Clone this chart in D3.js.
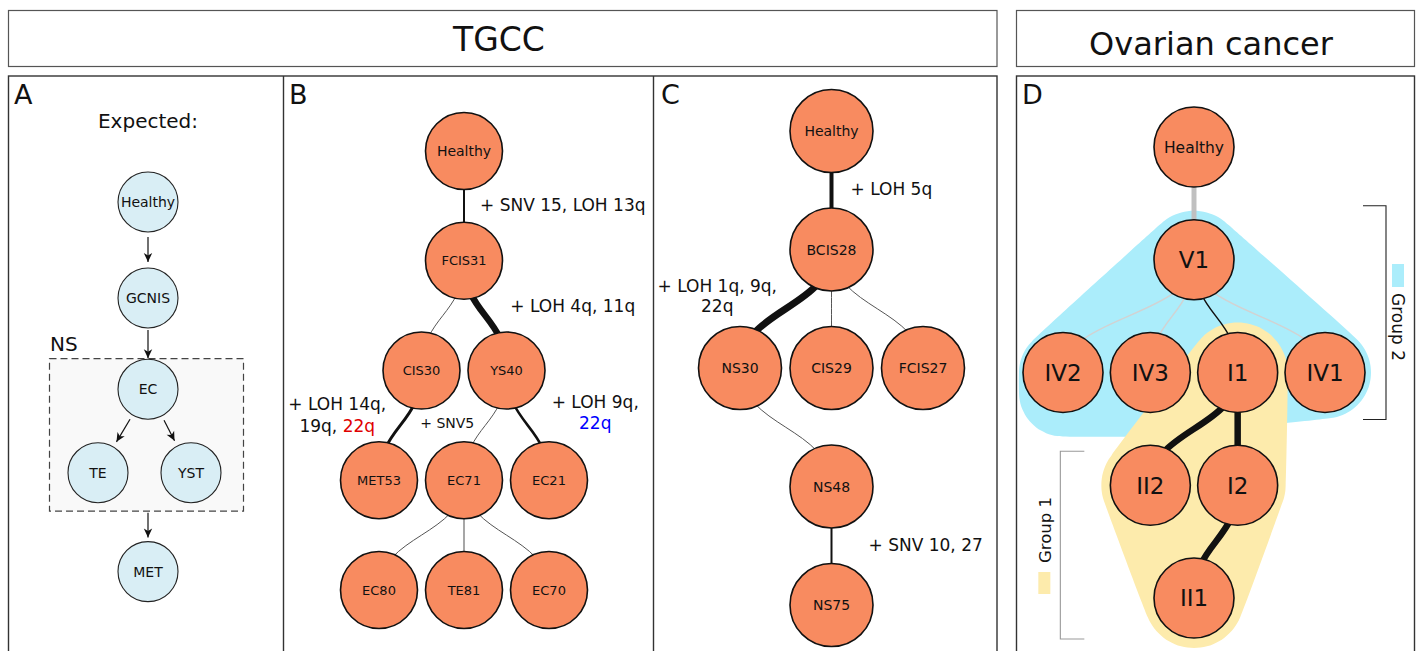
<!DOCTYPE html>
<html>
<head>
<meta charset="utf-8">
<script src="https://cdn.jsdelivr.net/npm/d3@7"></script>
<style>
  body { margin: 0; background: #fff; }
  svg { display: block; font-family: "DejaVu Sans", sans-serif; }
</style>
</head>
<body>
<svg id="fig" width="1417" height="651"></svg>
<script>
// ---------- data ----------
// Panel A: expected progression
const expectedNodes = ["Healthy", "GCNIS", "EC", "TE", "YST", "MET"];
const expectedCols  = [0, 0, 0, -1, 0.86, 0];
const expectedRows  = [0, 1, 1.95, 2.82, 2.82, 3.85];
const expectedArrows = [["Healthy", "GCNIS"], ["GCNIS", "EC"], ["EC", "TE"], ["EC", "YST"], ["NS", "MET"]];
const nsMembers = ["EC", "TE", "YST"];

// Panel B: TGCC patient tree
const treeBNodes = ["Healthy", "FCIS31", "CIS30", "YS40", "MET53", "EC71", "EC21", "EC80", "TE81", "EC70"];
const treeBCols  = [2, 2, 1, 3, 0, 2, 4, 0, 2, 4];
const treeBRows  = [0, 1, 2, 2, 3, 3, 3, 4, 4, 4];
const treeBEdges = [
  ["Healthy", "FCIS31", 2], ["FCIS31", "CIS30", 1], ["FCIS31", "YS40", 6.5],
  ["CIS30", "MET53", 3], ["YS40", "EC71", 1], ["YS40", "EC21", 2.5],
  ["EC71", "EC80", 1], ["EC71", "TE81", 1.3], ["EC71", "EC70", 1]
];
const treeBLabels = [
  { edge: ["Healthy", "FCIS31"], lines: [[["+ SNV 15, LOH 13q", "k"]]] },
  { edge: ["FCIS31", "YS40"],    lines: [[["+ LOH 4q, 11q", "k"]]] },
  { edge: ["CIS30", "MET53"],    lines: [[["+ LOH 14q,", "k"]], [["19q, ", "k"], ["22q", "r"]]] },
  { edge: ["YS40", "EC71"],      lines: [[["+ SNV5", "k"]]] },
  { edge: ["YS40", "EC21"],      lines: [[["+ LOH 9q,", "k"]], [["22q", "b"]]] }
];

// Panel C: TGCC patient tree
const treeCNodes = ["Healthy", "BCIS28", "NS30", "CIS29", "FCIS27", "NS48", "NS75"];
const treeCCols  = [1, 1, 0, 1, 2, 1, 1];
const treeCRows  = [0, 1, 2, 2, 2, 3, 4];
const treeCEdges = [
  ["Healthy", "BCIS28", 4], ["BCIS28", "NS30", 7], ["BCIS28", "CIS29", 1],
  ["BCIS28", "FCIS27", 1], ["NS30", "NS48", 1], ["NS48", "NS75", 2]
];
const treeCLabels = [
  { edge: ["Healthy", "BCIS28"], lines: [[["+ LOH 5q", "k"]]] },
  { edge: ["BCIS28", "NS30"],    lines: [[["+ LOH 1q, 9q,", "k"]], [["22q", "k"]]] },
  { edge: ["NS48", "NS75"],      lines: [[["+ SNV 10, 27", "k"]]] }
];

// Panel D: ovarian cancer tree (confidence: 1 = supported, 0 = weak)
const treeDNodes = ["Healthy", "V1", "IV2", "IV3", "I1", "IV1", "II2", "I2", "II1"];
const treeDCols  = [1.5, 1.5, 0, 1, 2, 3, 1, 2, 1.5];
const treeDRows  = [0, 1, 2, 2, 2, 2, 3, 3, 4];
const treeDEdges = [
  ["Healthy", "V1", 5, 0], ["V1", "IV2", 1.5, 0], ["V1", "IV3", 1.5, 0],
  ["V1", "I1", 1.5, 1], ["V1", "IV1", 1.5, 0], ["I1", "II2", 6.5, 1],
  ["I1", "I2", 6.5, 1], ["I2", "II1", 6.5, 1]
];
const group1Members = ["I1", "II2", "I2", "II1"];
const group2Members = ["V1", "IV2", "IV3", "I1", "IV1"];
const groupNames = ["Group 1", "Group 2"];

const headers = ["TGCC", "Ovarian cancer"];
const panelLetters = ["A", "B", "C", "D"];

// ---------- drawing ----------
const svg = d3.select("#fig");
const ORANGE = "#f88b60";
const LIGHTBLUE = "#d9eef5";
const BLUEHULL = "#abedfb";
const YELLOWHULL = "#fdebac";
const textColor = { k: "#111", r: "#e00000", b: "#0000ff" };

function layout(names, cols, rows, xScale, yScale) {
  const m = new Map();
  names.forEach((n, i) => m.set(n, { name: n, x: xScale(cols[i]), y: yScale(rows[i]) }));
  return m;
}
const link = d3.linkVertical().x(d => d.x).y(d => d.y);

// header boxes
svg.append("rect").attr("x", 8.5).attr("y", 10.5).attr("width", 988.5).attr("height", 56)
  .attr("fill", "none").attr("stroke", "#555").attr("stroke-width", 1.2);
svg.append("rect").attr("x", 1016.5).attr("y", 10.5).attr("width", 398).attr("height", 56)
  .attr("fill", "none").attr("stroke", "#555").attr("stroke-width", 1.2);
svg.append("text").attr("x", 499).attr("y", 51).attr("text-anchor", "middle")
  .attr("font-size", 33).attr("fill", "#111").text(headers[0]);
svg.append("text").attr("x", 1211).attr("y", 54.5).attr("text-anchor", "middle")
  .attr("font-size", 32).attr("fill", "#111").text(headers[1]);

// panel frames
const frame = svg.append("g").attr("fill", "none").attr("stroke", "#333").attr("stroke-width", 1.4);
frame.append("rect").attr("x", 8.5).attr("y", 76).attr("width", 988.5).attr("height", 600);
frame.append("line").attr("x1", 283.5).attr("x2", 283.5).attr("y1", 76).attr("y2", 660);
frame.append("line").attr("x1", 653.5).attr("x2", 653.5).attr("y1", 76).attr("y2", 660);
frame.append("rect").attr("x", 1016.5).attr("y", 76).attr("width", 398).attr("height", 600);

[14, 289, 661, 1022].forEach((x, i) => {
  svg.append("text").attr("x", x).attr("y", 104).attr("font-size", 27).attr("fill", "#111").text(panelLetters[i]);
});

// ---- Panel A ----
(function () {
  const r = 30;
  const xA = d3.scaleLinear().domain([-1, 1]).range([98, 198]);
  const yA = d3.scaleLinear().domain([0, 1]).range([202, 298]);
  const nodes = layout(expectedNodes, expectedCols, expectedRows, xA, yA);
  const g = svg.append("g");

  g.append("text").attr("x", 148).attr("y", 128).attr("text-anchor", "middle")
    .attr("font-size", 20).attr("fill", "#111").text("Expected:");

  const mem = nsMembers.map(n => nodes.get(n));
  const box = {
    x0: d3.min(mem, d => d.x) - r - 19,
    x1: d3.max(mem, d => d.x) + r + 22,
    y0: d3.min(mem, d => d.y) - r - 1,
    y1: d3.max(mem, d => d.y) + r + 8
  };
  g.append("rect").attr("x", box.x0 + 0.5).attr("y", box.y0 + 0.5)
    .attr("width", box.x1 - box.x0).attr("height", box.y1 - box.y0)
    .attr("fill", "#f9f9f9").attr("stroke", "#444").attr("stroke-width", 1.2)
    .attr("stroke-dasharray", "7,4");
  g.append("text").attr("x", box.x0 + 1).attr("y", box.y0 - 7).attr("font-size", 20)
    .attr("fill", "#111").text("NS");

  svg.append("defs").append("marker").attr("id", "arrowA")
    .attr("viewBox", "-10 -5 11 10").attr("refX", 0).attr("refY", 0)
    .attr("markerWidth", 11).attr("markerHeight", 10).attr("markerUnits", "userSpaceOnUse")
    .attr("orient", "auto")
    .append("path").attr("d", "M0,0 L-9,-4.2 L-6.5,0 L-9,4.2 Z").attr("fill", "#111");

  expectedArrows.forEach(([a, b]) => {
    const t = nodes.get(b);
    let sx, sy, ex, ey;
    if (a === "NS") {
      sx = t.x; sy = box.y1 + 2; ex = t.x; ey = t.y - r - 4;
    } else {
      const s = nodes.get(a);
      const dx = t.x - s.x, dy = t.y - s.y, L = Math.hypot(dx, dy);
      const ux = dx / L, uy = dy / L;
      const gs = b === "EC" ? 2 : 5, ge = b === "EC" ? 1 : 6;
      sx = s.x + ux * (r + gs); sy = s.y + uy * (r + gs);
      ex = t.x - ux * (r + ge); ey = t.y - uy * (r + ge);
    }
    g.append("line").attr("x1", sx).attr("y1", sy).attr("x2", ex).attr("y2", ey)
      .attr("stroke", "#111").attr("stroke-width", 1.2).attr("marker-end", "url(#arrowA)");
  });

  const ng = g.selectAll("g.n").data([...nodes.values()]).join("g")
    .attr("transform", d => `translate(${d.x},${d.y})`);
  ng.append("circle").attr("r", r).attr("fill", LIGHTBLUE).attr("stroke", "#222").attr("stroke-width", 1.1);
  ng.append("text").attr("text-anchor", "middle").attr("dy", "0.36em").attr("font-size", 14)
    .attr("fill", "#111").text(d => d.name);
})();

// generic tree drawer
function drawTree(nodes, edges, r, fontSize, edgeStyle) {
  const g = svg.append("g");
  g.selectAll("path.e").data(edges).join("path")
    .attr("d", e => link({ source: nodes.get(e[0]), target: nodes.get(e[1]) }))
    .attr("fill", "none")
    .attr("stroke", e => edgeStyle(e).color)
    .attr("stroke-width", e => edgeStyle(e).width);
  const ng = g.selectAll("g.n").data([...nodes.values()]).join("g")
    .attr("transform", d => `translate(${d.x},${d.y})`);
  ng.append("circle").attr("r", r).attr("fill", ORANGE).attr("stroke", "#111").attr("stroke-width", 1.6);
  ng.append("text").attr("text-anchor", "middle").attr("dy", "0.36em")
    .attr("font-size", d => typeof fontSize === "function" ? fontSize(d) : fontSize)
    .attr("fill", "#111").text(d => d.name);
  return g;
}

// edge annotations placed relative to the edge midpoint
function drawLabels(nodes, labels, placement, fontSize) {
  labels.forEach((lab, i) => {
    const s = nodes.get(lab.edge[0]), t = nodes.get(lab.edge[1]);
    const mx = (s.x + t.x) / 2, my = (s.y + t.y) / 2;
    const p = placement[i];
    const lh = p.lh || 0;
    lab.lines.forEach((segs, li) => {
      const txt = svg.append("text").attr("x", mx + p.dx).attr("y", my + p.dy + li * lh)
        .attr("text-anchor", p.anchor).attr("font-size", p.fs || fontSize);
      segs.forEach(([str, c]) => txt.append("tspan").attr("fill", textColor[c]).text(str));
    });
  });
}

// ---- Panel B ----
(function () {
  const xB = d3.scaleLinear().domain([0, 4]).range([379, 549]);
  const yB = d3.scaleLinear().domain([0, 4]).range([151, 590]);
  const nodes = layout(treeBNodes, treeBCols, treeBRows, xB, yB);
  drawTree(nodes, treeBEdges, 38.5, d => d.name === "Healthy" ? 14 : 13,
    e => ({ width: e[2], color: e[2] <= 1.3 ? (e[2] > 1 ? "#777" : "#555") : "#111" }));
  drawLabels(nodes, treeBLabels, [
    { dx: 16, dy: 5, anchor: "start" },
    { dx: 25, dy: -3.5, anchor: "start" },
    { dx: -63, dy: -15.5, anchor: "middle", lh: 22 },
    { dx: -65, dy: 2.5, anchor: "start", fs: 14 },
    { dx: 67.5, dy: -17.5, anchor: "middle", lh: 21 }
  ], 17);
})();

// ---- Panel C ----
(function () {
  const xC = d3.scaleLinear().domain([0, 2]).range([740, 923]);
  const yC = d3.scaleLinear().domain([0, 4]).range([131, 605]);
  const nodes = layout(treeCNodes, treeCCols, treeCRows, xC, yC);
  drawTree(nodes, treeCEdges, 41.5, 14,
    e => ({ width: e[2], color: e[2] <= 1 ? "#555" : "#111" }));
  drawLabels(nodes, treeCLabels, [
    { dx: 19, dy: 4.5, anchor: "start" },
    { dx: -68.5, dy: -17, anchor: "middle", lh: 20 },
    { dx: 37, dy: 5, anchor: "start" }
  ], 17);
})();

// ---- Panel D ----
(function () {
  const r = 40;
  const xD = d3.scaleLinear().domain([0, 3]).range([1063, 1325]);
  const yD = d3.scaleLinear().domain([0, 4]).range([147, 598]);
  const nodes = layout(treeDNodes, treeDCols, treeDRows, xD, yD);

  // smooth hull around member circles
  function hull(spec) {
    const pts = [];
    spec.forEach(({ n, pad, dy }) => {
      const c = nodes.get(n);
      for (let k = 0; k < 48; k++) {
        const a = (k / 48) * 2 * Math.PI;
        pts.push([c.x + (r + pad) * Math.cos(a), c.y + (dy || 0) + (r + pad) * Math.sin(a)]);
      }
    });
    return d3.line().curve(d3.curveCatmullRomClosed.alpha(0.5))(d3.polygonHull(pts));
  }
  const padG2 = { V1: 9, IV2: 4, IV3: 4, I1: 4, IV1: 6 };
  const spec2 = [];
  group2Members.forEach(n => {
    spec2.push({ n, pad: padG2[n] });
    if (n === "IV2" || n === "IV3") spec2.push({ n, pad: 4, dy: 20 });
  });
  const padG1 = { I1: 10, II2: 9, I2: 8, II1: 10 };
  const spec1 = group1Members.map(n => ({ n, pad: padG1[n] }));

  svg.append("path").attr("d", hull(spec2)).attr("fill", BLUEHULL);
  svg.append("path").attr("d", hull(spec1)).attr("fill", YELLOWHULL);

  drawTree(nodes, treeDEdges, r, d => d.name === "Healthy" ? 15.5 : 23,
    e => ({
      width: e[2],
      color: e[3] === 1 ? "#111" : (e[2] > 3 ? "#c0c0c0" : "#d2d2d2")
    }));

  // group brackets
  const v1 = nodes.get("V1"), iv1 = nodes.get("IV1"), ii2 = nodes.get("II2"), ii1 = nodes.get("II1");
  const b2 = { x: iv1.x + r + 21, y0: v1.y - r - 14, y1: iv1.y + r + 7 };
  svg.append("path")
    .attr("d", `M${b2.x - 23},${b2.y0}H${b2.x}V${b2.y1}H${b2.x - 23}`)
    .attr("fill", "none").attr("stroke", "#222").attr("stroke-width", 1.1);
  const b1 = { x: ii2.x - r - 50, y0: ii2.y - r + 6, y1: ii1.y + r + 1 };
  svg.append("path")
    .attr("d", `M${b1.x + 24},${b1.y0}H${b1.x}V${b1.y1}H${b1.x + 24}`)
    .attr("fill", "none").attr("stroke", "#999").attr("stroke-width", 1.1);

  // group legends
  svg.append("rect").attr("x", b2.x + 6).attr("y", 264).attr("width", 12).attr("height", 23).attr("fill", BLUEHULL);
  svg.append("text").attr("transform", `translate(${b2.x + 6},293) rotate(90)`)
    .attr("font-size", 17).attr("fill", "#111").text(groupNames[1]);
  svg.append("rect").attr("x", b1.x - 22).attr("y", 572).attr("width", 12).attr("height", 22).attr("fill", YELLOWHULL);
  svg.append("text").attr("transform", `translate(${b1.x - 9},563) rotate(-90)`)
    .attr("font-size", 16.5).attr("fill", "#111").text(groupNames[0]);
})();
</script>
</body>
</html>
